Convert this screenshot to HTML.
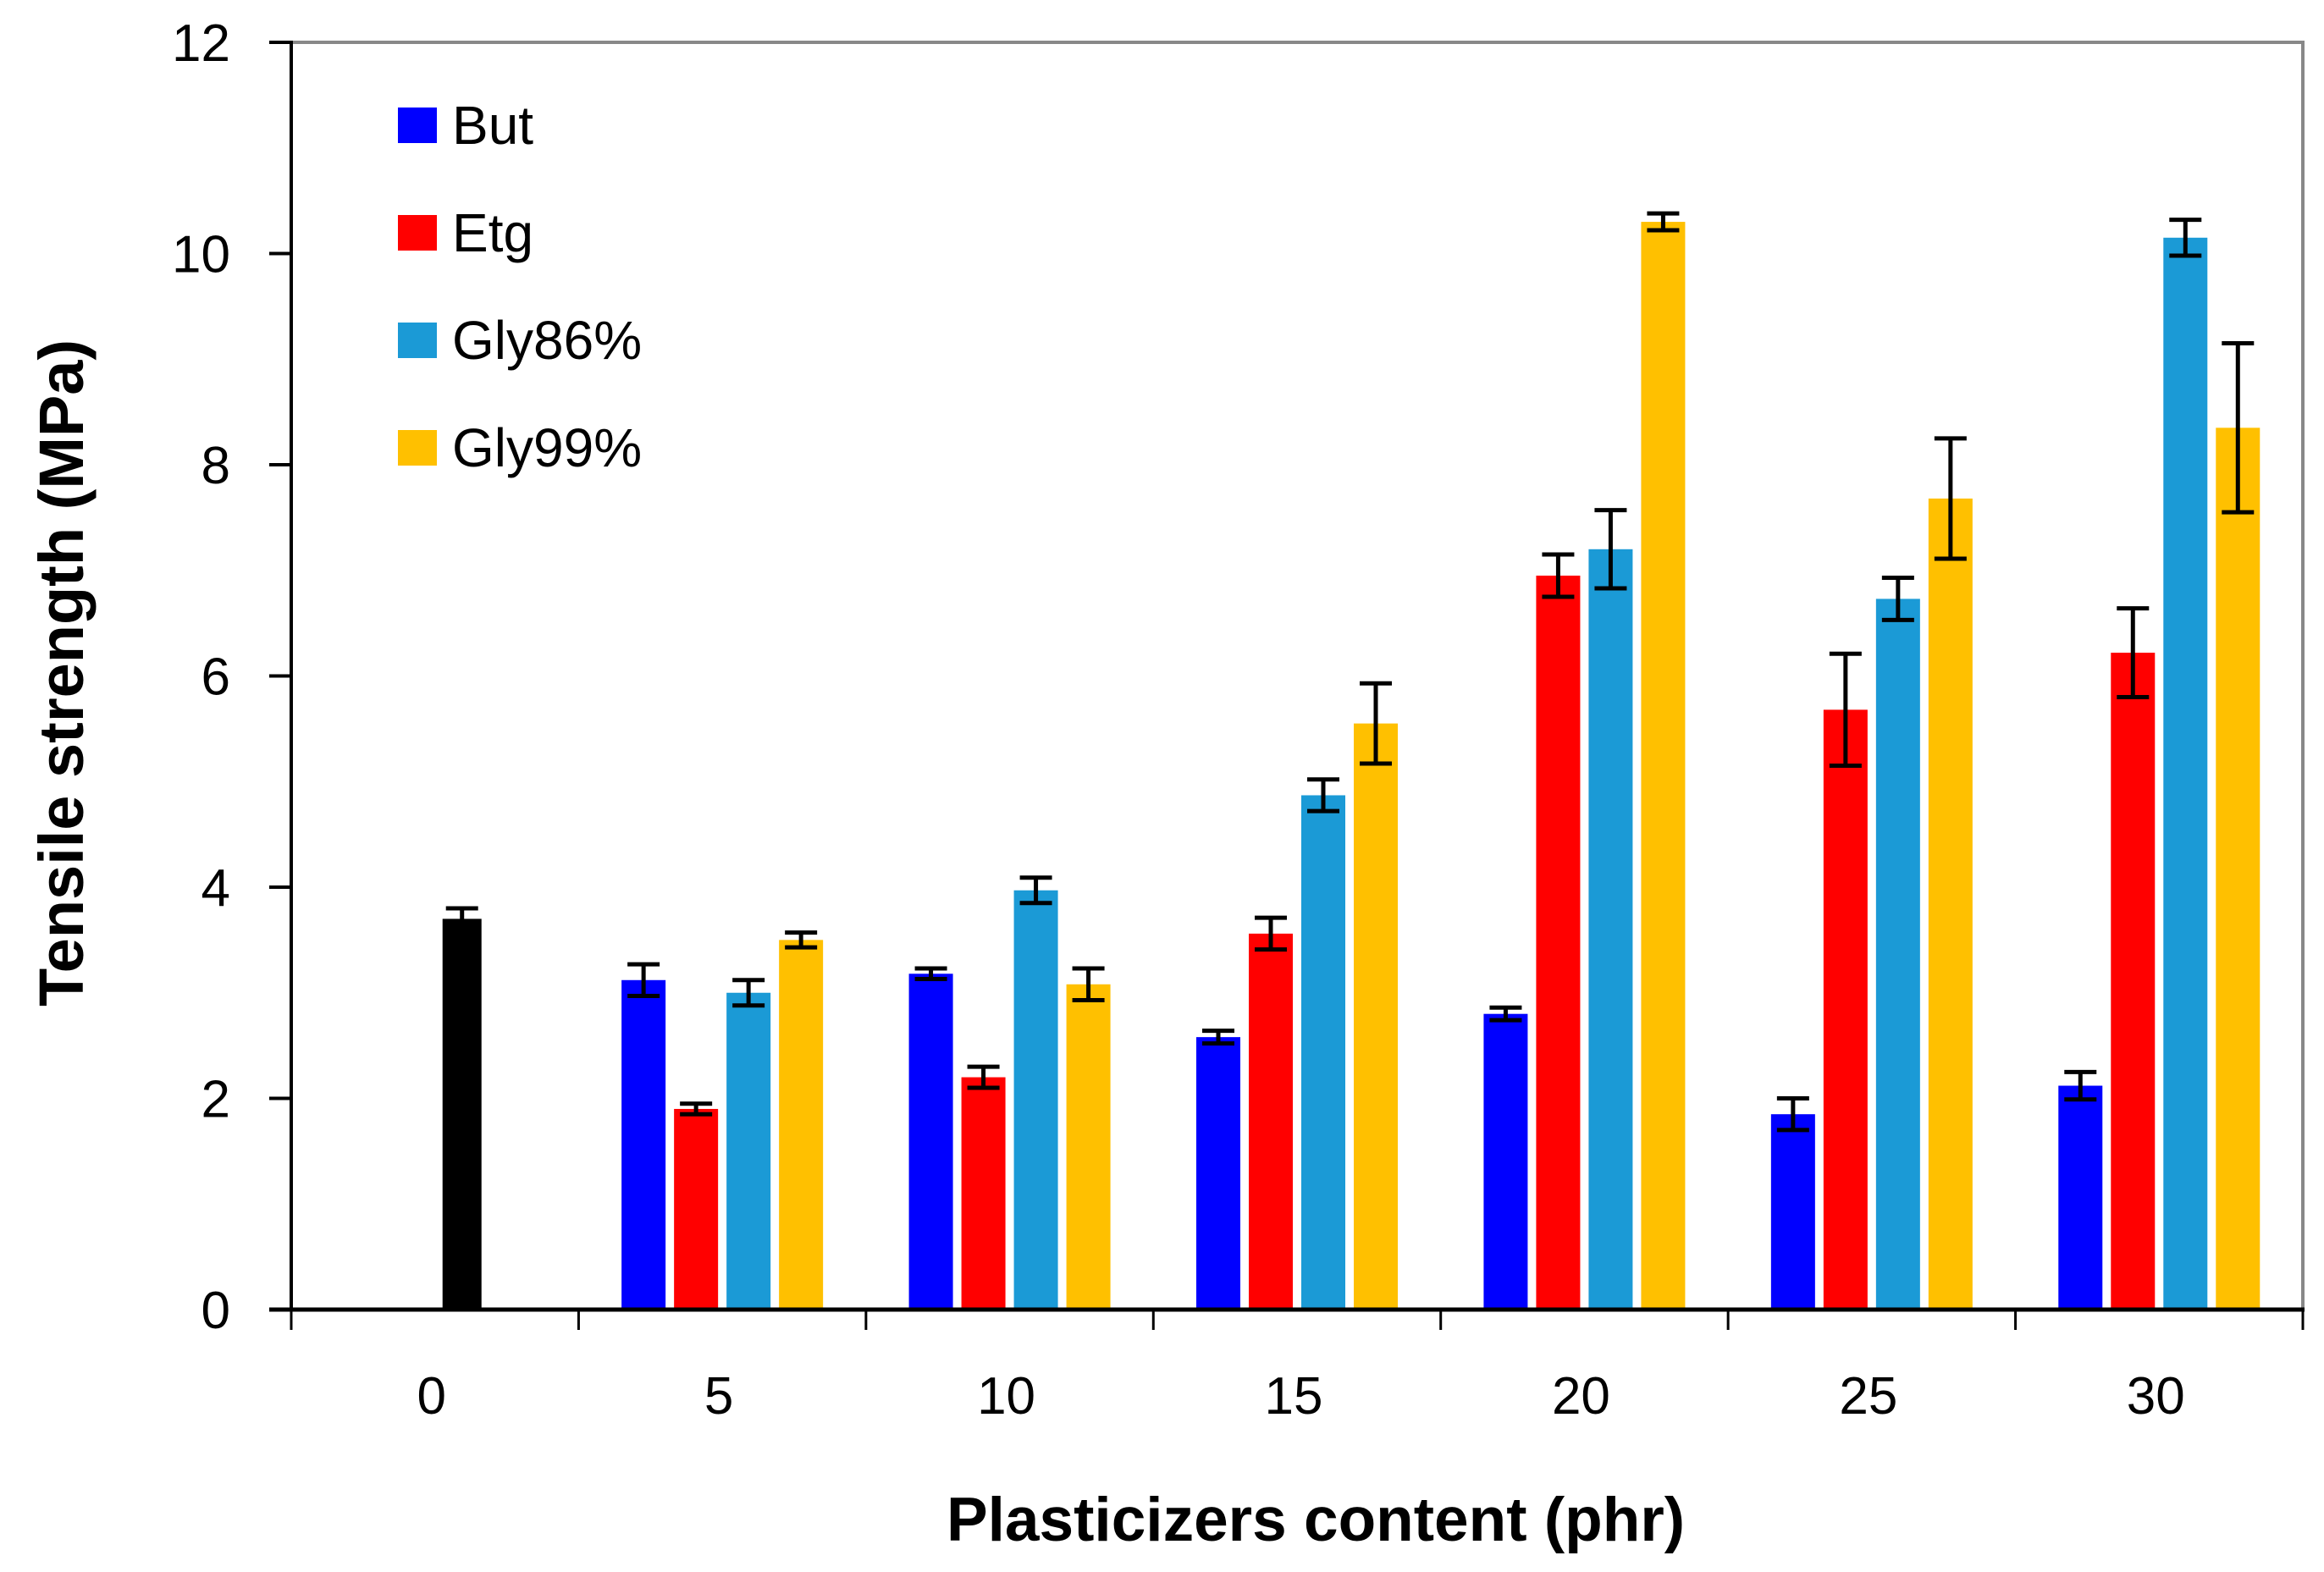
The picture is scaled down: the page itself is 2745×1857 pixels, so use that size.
<!DOCTYPE html>
<html><head><meta charset="utf-8"><style>
html,body{margin:0;padding:0;background:#fff;}
svg{display:block;font-family:"Liberation Sans",sans-serif;}
</style></head><body>
<svg id="chart" width="2745" height="1857" viewBox="0 0 2745 1857">
<g id="grid"></g>
</svg>
<script>
const categories = ["0","5","10","15","20","25","30"];
const seriesNames = ["But","Etg","Gly86%","Gly99%"];
const seriesColors = ["#0000ff","#ff0000","#1b9ad6","#ffc000"];
const controlValue = 3.7;
const controlErr = 0.1;
const butVals = [null,3.12,3.18,2.58,2.8,1.85,2.12];
const butErr = [null,0.15,0.05,0.06,0.06,0.15,0.13];
const etgVals = [null,1.9,2.2,3.56,6.95,5.68,6.22];
const etgErr = [null,0.05,0.1,0.15,0.2,0.53,0.42];
const gly86Vals = [null,3.0,3.97,4.87,7.2,6.73,10.15];
const gly86Err = [null,0.12,0.12,0.15,0.37,0.2,0.17];
const gly99Vals = [null,3.5,3.08,5.55,10.3,7.68,8.35];
const gly99Err = [null,0.07,0.15,0.38,0.08,0.57,0.8];
const yTicks = [0,2,4,6,8,10,12];

const NS="http://www.w3.org/2000/svg";
const svg=document.getElementById('chart');
const L=344,R=2720,T=50,B=1547,YMAX=12;
const catW=(R-L)/categories.length;
function y(v){return B-(v/YMAX)*(B-T);}
function xc(i){return L+catW*(i+0.5);}
function mk(tag,attrs,parent){const e=document.createElementNS(NS,tag);for(const k in attrs)e.setAttribute(k,attrs[k]);(parent||svg).appendChild(e);return e;}

const frame=mk('path',{d:`M${L},${T} H${R} V${B}`,fill:'none',stroke:'#888',"stroke-width":4});



const allVals=[butVals,etgVals,gly86Vals,gly99Vals];
const allErr=[butErr,etgErr,gly86Err,gly99Err];
const bw=52, step=62;
function errBar(cx,v,e,name){
  const g=mk('g',{stroke:'#000',"stroke-width":5});
  
  
  mk('line',{x1:cx,x2:cx,y1:y(v+e),y2:y(v-e)},g);
  mk('line',{x1:cx-19,x2:cx+19,y1:y(v+e),y2:y(v+e)},g);
  mk('line',{x1:cx-19,x2:cx+19,y1:y(v-e),y2:y(v-e)},g);
}
{
  const cx=xc(0)+32;
  const r=mk('rect',{x:cx-23,y:y(controlValue),width:46,height:B-y(controlValue),fill:'#000'});
  
  
  errBar(cx,controlValue,controlErr,'error-bar-control-0');
}
for(let s=0;s<4;s++){
  for(let i=0;i<categories.length;i++){
    const v=allVals[s][i]; if(v==null) continue;
    const cx=xc(i)+(s-1.5)*step;
    const r=mk('rect',{x:cx-bw/2,y:y(v),width:bw,height:B-y(v),fill:seriesColors[s]});
    
    
    errBar(cx,v,allErr[s][i],'error-bar-'+seriesNames[s].replace('%','').toLowerCase()+'-'+categories[i]);
  }
}
const ya=mk('line',{x1:L,x2:L,y1:T-2,y2:B,stroke:'#000',"stroke-width":4});


const xa=mk('line',{x1:L-26,x2:R+2,y1:B,y2:B,stroke:'#000',"stroke-width":5});


yTicks.forEach(t=>{
  const l=mk('line',{x1:L-26,x2:L,y1:y(t),y2:y(t),stroke:'#000',"stroke-width":4});
  
  
  const tx=mk('text',{x:272,y:y(t)+22,"text-anchor":'end',"font-size":62,fill:'#000'});
  tx.textContent=t;
  
  
});
for(let i=0;i<=categories.length;i++){
  const l=mk('line',{x1:L+catW*i,x2:L+catW*i,y1:B,y2:B+24,stroke:'#000',"stroke-width":3});
  
  
}
categories.forEach((c,i)=>{
  const tx=mk('text',{x:xc(i)-4,y:1670,"text-anchor":'middle',"font-size":62,fill:'#000'});
  tx.textContent=c;
  
  
});
const xt=mk('text',{x:1554,y:1820,"text-anchor":'middle',"font-size":73,"font-weight":'bold',fill:'#000'});
xt.textContent='Plasticizers content (phr)';


const yt=mk('text',{x:0,y:0,"text-anchor":'middle',"font-size":74,"font-weight":'bold',fill:'#000',transform:'translate(98,795) rotate(-90)'});
yt.textContent='Tensile strength (MPa)';


seriesNames.forEach((n,i)=>{
  const g=mk('g',{});
  
  
  const cy=148+i*127;
  mk('rect',{x:470,y:cy-21,width:46,height:42,fill:seriesColors[i]},g);
  const t=mk('text',{x:534,y:cy+22,"font-size":64,fill:'#000'},g);
  t.textContent=n;
});
</script>
</body></html>
